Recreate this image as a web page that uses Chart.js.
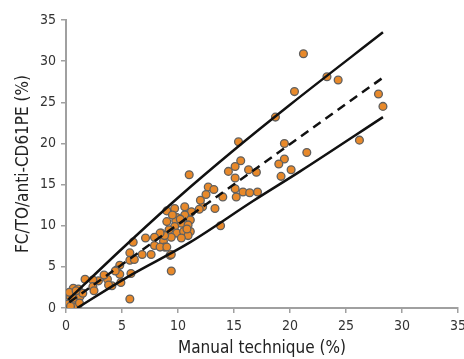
<!DOCTYPE html>
<html lang="en">
<head>
    <meta charset="UTF-8">
    <title>FC/TO/anti-CD61PE vs manual technique</title>
    <style>
        html, body { margin: 0; padding: 0; background: #fff; }
        #wrap { width: 464px; height: 359px; }
    </style>
    <script src="https://cdn.jsdelivr.net/npm/chart.js"></script>
</head>
<body>
    <div id="wrap"><canvas id="scatter-chart" width="464" height="359"></canvas></div>
    <script>
        // measured pairs: manual technique (%) vs FC/TO/anti-CD61PE (%)
        const manualX = [
            21.2, 20.4, 18.7, 15.4, 11.0, 23.3, 24.3, 27.9, 28.3, 26.2, 19.5, 21.5, 19.5, 19.0, 20.1, 19.2,
            15.6, 15.1, 14.5, 16.3, 17.0, 15.1,
            12.7, 13.2, 12.5, 14.0, 15.1, 15.8, 16.4, 17.1, 15.2,
            13.3, 12.2, 11.9, 11.2, 10.6, 9.7, 9.0, 13.8,
            10.6, 11.1, 9.9, 9.0, 9.8, 10.3, 10.9, 9.7, 9.2, 9.9, 10.5, 11.1, 8.5, 9.4, 10.9, 10.3, 8.7, 8.8, 9.3, 9.4,
            8.8, 8.4, 7.9, 7.9, 8.4, 7.1, 6.0, 5.7, 6.8, 7.6, 9.0, 9.4, 5.7, 6.1, 5.8, 5.7,
            4.8, 4.5, 4.8, 4.1, 4.9, 3.7, 3.4, 2.9, 2.4, 2.4, 1.7, 2.5, 3.8, 4.4,
            0.65, 1.1, 1.4, 0.8, 0.36, 0.95, 0.5, 0.2, 0.8, 1.25, 0.65, 1.5, 1.0, 0.4, 1.2, 0.3, 0.9,
            10.2, 9.5, 10.8, 12.0
        ];
        const cd61Y = [
            30.9, 26.3, 23.2, 20.2, 16.2, 28.1, 27.7, 26.0, 24.5, 20.4, 20.0, 18.9, 18.1, 17.5, 16.8, 16.0,
            17.9, 17.2, 16.6, 16.8, 16.5, 15.8,
            14.7, 14.4, 13.8, 13.5, 14.5, 14.1, 14.0, 14.1, 13.5,
            12.1, 12.3, 12.0, 11.7, 12.3, 12.1, 11.8, 10.0,
            11.3, 10.7, 11.0, 10.5, 10.6, 10.3, 10.1, 9.9, 9.5, 9.1, 9.3, 9.3, 9.1, 8.6, 8.8, 8.5, 8.1, 7.4, 6.4, 4.5,
            8.8, 9.1, 8.6, 7.6, 7.4, 8.5, 8.0, 6.7, 6.5, 6.5, 7.4, 6.5, 5.8, 5.9, 4.2, 1.1,
            5.2, 4.6, 4.1, 2.7, 3.1, 3.5, 4.0, 3.3, 3.4, 2.6, 3.5, 2.1, 2.8, 4.5,
            2.4, 2.3, 1.8, 1.6, 1.4, 1.0, 0.8, 0.5, 0.4, 1.4, 1.2, 1.8, 0.2, 0.2, 0.6, 1.9, 2.1,
            10.8, 11.3, 9.6, 13.1
        ];

        // fitted line and its bounds
        const upperX = [0.2, 5, 10, 15, 20, 28.3];
        const upperY = [1.0, 7.2, 13.4, 19.2, 24.7, 33.5];
        const fitX = [0.3, 28.3];
        const fitY = [0.7, 28.0];
        const lowerX = [1.0, 5.4, 11.1, 16.7, 20.9, 28.3];
        const lowerY = [0, 3.7, 8.0, 13.0, 16.6, 23.2];

        const axisTicks = [0, 5, 10, 15, 20, 25, 30, 35];

        function toPoints(xs, ys) {
            return xs.map((x, i) => ({ x: x, y: ys[i] }));
        }

        function lineSet(xs, ys, dash) {
            return {
                data: toPoints(xs, ys),
                showLine: true,
                borderColor: '#111',
                borderWidth: 2.5,
                borderDash: dash,
                pointRadius: 0,
                cubicInterpolationMode: 'monotone',
                fill: false,
                order: 0
            };
        }

        const fontFamily = "'Liberation Sans Narrow', 'DejaVu Sans Condensed', 'Liberation Sans', sans-serif";

        function axis(title, titlePad) {
            return {
                type: 'linear',
                min: 0,
                max: 35,
                afterBuildTicks: (scale) => {
                    scale.ticks = axisTicks.map(v => ({ value: v }));
                },
                border: { display: true, color: '#a0a0a0', width: 2 },
                grid: { drawOnChartArea: false, drawTicks: true, tickLength: 5, color: '#a0a0a0', lineWidth: 1.5 },
                ticks: { color: '#333', padding: 5, font: { family: fontFamily, size: 14 } },
                title: { display: true, text: title, color: '#222', padding: titlePad, font: { family: fontFamily, size: 17 } }
            };
        }

        const xAxis = axis('Manual technique (%)', { top: 2, bottom: 0 });
        xAxis.afterFit = (scale) => {
            scale.height = 51;
            scale.paddingLeft = 0;
            scale.paddingRight = 6;
        };
        const yAxis = axis('FC/TO/anti-CD61PE (%)', { top: 13, bottom: 0 });
        yAxis.afterFit = (scale) => { scale.width = 66; };

        const ctx = document.getElementById('scatter-chart').getContext('2d');
        new Chart(ctx, {
            type: 'scatter',
            data: {
                datasets: [
                    lineSet(upperX, upperY, []),
                    lineSet(fitX, fitY, [9, 6]),
                    lineSet(lowerX, lowerY, []),
                    {
                        data: toPoints(manualX, cd61Y),
                        backgroundColor: '#e8892a',
                        borderColor: '#606060',
                        borderWidth: 1.3,
                        pointRadius: 3.9,
                        order: 1
                    }
                ]
            },
            options: {
                responsive: false,
                animation: false,
                layout: { padding: { top: 20, right: 0, bottom: 0, left: 0 } },
                plugins: { legend: { display: false }, tooltip: { enabled: false } },
                scales: { x: xAxis, y: yAxis }
            }
        });
    </script>
</body>
</html>
